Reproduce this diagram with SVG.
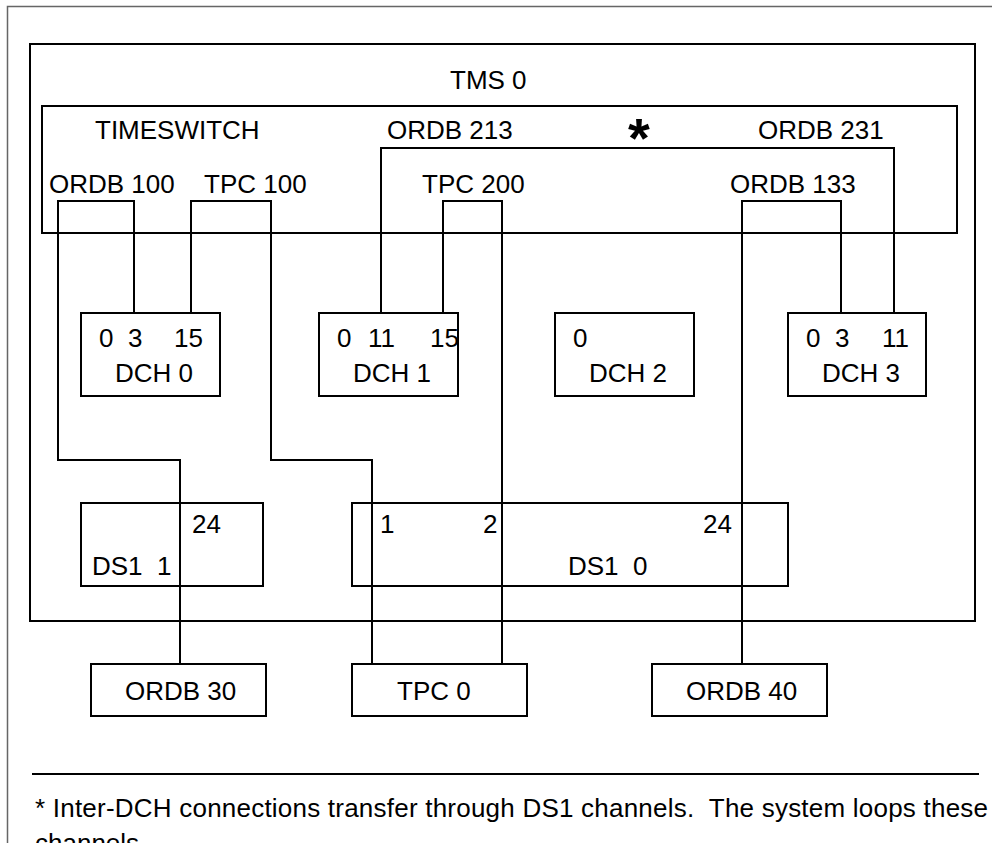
<svg xmlns="http://www.w3.org/2000/svg" width="992" height="843" viewBox="0 0 992 843">
<style>
.b{fill:#fff;stroke:#000;stroke-width:2}
.c{fill:none;stroke:#000;stroke-width:2}
text{font-family:"Liberation Sans",Arial,sans-serif;font-size:26px;fill:#000;white-space:pre}
.star{font-weight:bold;font-size:56px}
</style>
<rect width="992" height="843" fill="#fff"/>
<path d="M992 6.5H7.5V843" fill="none" stroke="#666" stroke-width="1.5"/>
<g id="tms0"><rect class="b" x="30" y="44" width="945" height="577"/><text x="450" y="89">TMS 0</text></g>
<g id="timeswitch"><rect class="b" x="42" y="106" width="915" height="127"/>
<text x="95" y="139">TIMESWITCH</text>
<text x="387" y="139">ORDB 213</text>
<text class="star" x="628" y="157">*</text>
<text x="758" y="139">ORDB 231</text>
<text x="49" y="193">ORDB 100</text>
<text x="204" y="193">TPC 100</text>
<text x="422" y="193">TPC 200</text>
<text x="730" y="193">ORDB 133</text>
</g>
<g id="dch0"><rect class="b" x="81" y="313" width="139" height="83"/><text x="99" y="347">0</text><text x="128" y="347">3</text><text x="174" y="347">15</text><text x="115" y="382">DCH 0</text></g>
<g id="dch1"><rect class="b" x="319" y="313" width="139" height="83"/><text x="337" y="347">0</text><text x="368" y="347">11</text><text x="430" y="347">15</text><text x="353" y="382">DCH 1</text></g>
<g id="dch2"><rect class="b" x="555" y="313" width="139" height="83"/><text x="573" y="347">0</text><text x="589" y="382">DCH 2</text></g>
<g id="dch3"><rect class="b" x="788" y="313" width="138" height="83"/><text x="806" y="347">0</text><text x="835" y="347">3</text><text x="882" y="347">11</text><text x="822" y="382">DCH 3</text></g>
<g id="ds1-1"><rect class="b" x="81" y="503" width="182" height="83"/><text x="192" y="533">24</text><text x="92" y="575" xml:space="preserve">DS1  1</text></g>
<g id="ds1-0"><rect class="b" x="352" y="503" width="436" height="83"/><text x="380" y="533">1</text><text x="483" y="533">2</text><text x="703" y="533">24</text><text x="568" y="575" xml:space="preserve">DS1  0</text></g>
<g id="ordb30"><rect class="b" x="91" y="664" width="175" height="52"/><text x="125" y="700">ORDB 30</text></g>
<g id="tpc0"><rect class="b" x="352" y="664" width="175" height="52"/><text x="397" y="700">TPC 0</text></g>
<g id="ordb40"><rect class="b" x="652" y="664" width="175" height="52"/><text x="686" y="700">ORDB 40</text></g>
<g id="connectors">
<path class="c" d="M381 313V148H894V313"/>
<path class="c" d="M134 313V201H58V460H180V664"/>
<path class="c" d="M191 313V201H271V460H372V664"/>
<path class="c" d="M443 313V201H502V664"/>
<path class="c" d="M841 313V201H742V664"/>
</g>
<g id="footnote">
<path class="c" d="M32 774H979"/>
<text x="35" y="817" xml:space="preserve" textLength="953" lengthAdjust="spacing">* Inter-DCH connections transfer through DS1 channels.  The system loops these</text>
<text x="35" y="852">channels.</text>
</g>
</svg>
